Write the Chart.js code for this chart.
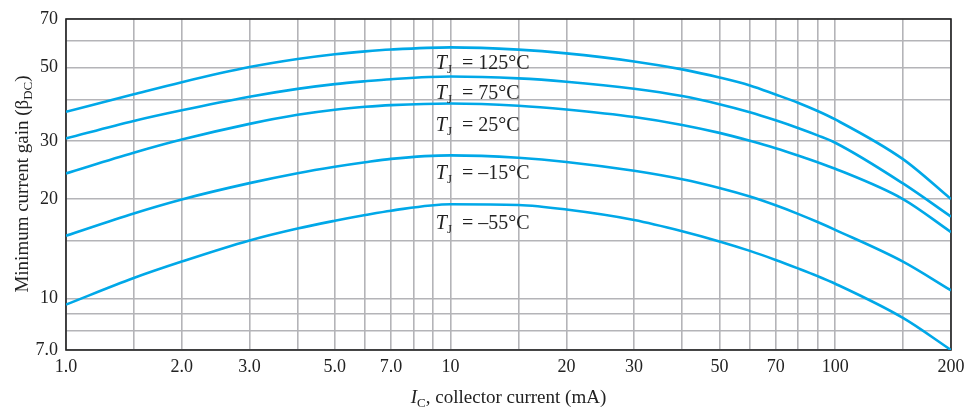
<!DOCTYPE html>
<html>
<head>
<meta charset="utf-8">
<script src="https://cdn.jsdelivr.net/npm/chart.js@4.4.1/dist/chart.umd.min.js"></script>
<style>
  html, body { margin: 0; padding: 0; background: #fff; }
  #wrap { width: 965px; height: 410px; }
</style>
</head>
<body>
<div id="wrap"><canvas id="grafico" width="965" height="410"></canvas></div>
<script>
// collector current (mA), shared by all curves
const corrente = [1, 1.5, 2, 3, 4, 5, 6, 7, 10, 15, 20, 30, 40, 50, 60, 70, 80, 90, 100, 150, 200];

// minimum beta_DC for each junction temperature
const ganho125 = [36.7, 41.45, 45.1, 50.1, 53.0, 54.8, 55.9, 56.6, 57.45, 56.55, 55.1, 52.1, 49.3, 46.6, 44.1, 41.4, 39.1, 36.9, 34.8, 26.4, 20.0];
const ganho75  = [30.5, 34.45, 37.1, 40.75, 43.05, 44.5, 45.4, 46.05, 46.9, 46.3, 45.25, 43.1, 40.95, 38.7, 36.6, 34.6, 32.8, 31.15, 29.6, 22.3, 17.7];
const ganho25  = [23.9, 27.6, 30.25, 33.75, 35.95, 37.25, 38.0, 38.45, 38.9, 38.3, 37.3, 35.4, 33.5, 31.7, 30.0, 28.5, 27.1, 25.85, 24.7, 20.0, 15.9];
const ganhoM15 = [15.5, 18.1, 19.95, 22.35, 23.95, 25.05, 25.85, 26.45, 27.1, 26.65, 25.9, 24.35, 22.95, 21.6, 20.35, 19.15, 18.05, 17.05, 16.15, 12.95, 10.6];
const ganhoM55 = [9.6, 11.55, 12.95, 15.0, 16.3, 17.2, 17.9, 18.45, 19.3, 19.2, 18.6, 17.3, 16.0, 14.9, 13.95, 13.1, 12.35, 11.7, 11.1, 8.75, 7.0];

const temperaturas = ["125°C", "75°C", "25°C", "\u201315°C", "\u201355°C"];
// where each T_J label sits (mA, gain)
const rotuloX = [9.15, 9.15, 9.15, 9.15, 9.15];
const rotuloY = [51.9, 42.1, 33.7, 24.1, 17.0];

// grid lines and labelled ticks
const gradeX = [1, 1.5, 2, 3, 4, 5, 6, 7, 8, 9, 10, 15, 20, 30, 40, 50, 60, 70, 80, 90, 100, 150, 200];
const rotulosX = { 1: "1.0", 2: "2.0", 3: "3.0", 5: "5.0", 7: "7.0", 10: "10", 20: "20", 30: "30", 50: "50", 70: "70", 100: "100", 200: "200" };
const gradeY = [7, 8, 9, 10, 15, 20, 30, 40, 50, 60, 70];
const rotulosY = { 7: "7.0", 10: "10", 20: "20", 30: "30", 50: "50", 70: "70" };

const series = [ganho125, ganho75, ganho25, ganhoM15, ganhoM55];
const azul = "#00a8e8";
const serif = "'Liberation Serif', 'DejaVu Serif', serif";

const datasets = series.map(function (s, i) {
  return {
    label: temperaturas[i],
    data: corrente.map((x, k) => ({ x: x, y: s[k] })),
    borderColor: azul,
    borderWidth: 2.6,
    pointRadius: 0,
    fill: false,
    cubicInterpolationMode: "monotone",
  };
});

// frame, curve labels and axis titles (with subscripts)
const textos = {
  id: "textos",
  beforeDatasetsDraw(chart) {
    const a = chart.chartArea;
    const c = chart.ctx;
    c.save();
    c.strokeStyle = "#222";
    c.lineWidth = 1.6;
    c.strokeRect(a.left, a.top, a.right - a.left, a.bottom - a.top);
    c.restore();
  },
  afterDatasetsDraw(chart) {
    const c = chart.ctx;
    const sx = chart.scales.x;
    const sy = chart.scales.y;
    c.save();
    c.fillStyle = "#222";
    c.textBaseline = "alphabetic";
    c.textAlign = "left";
    temperaturas.forEach(function (t, i) {
      let x = sx.getPixelForValue(rotuloX[i]);
      const y = sy.getPixelForValue(rotuloY[i]) + 7;
      c.font = "italic 20px " + serif;
      c.fillText("T", x, y);
      x += c.measureText("T").width;
      c.font = "13px " + serif;
      c.fillText("J", x, y + 4);
      x += c.measureText("J").width + 10;
      c.font = "20px " + serif;
      c.fillText("= " + t, x, y);
    });

    // x title
    c.font = "italic 19px " + serif;
    const w1 = c.measureText("I").width;
    c.font = "13px " + serif;
    const w2 = c.measureText("C").width;
    c.font = "19px " + serif;
    const resto = ", collector current (mA)";
    const w3 = c.measureText(resto).width;
    let x = (chart.chartArea.left + chart.chartArea.right) / 2 - (w1 + w2 + w3) / 2;
    const yb = 403;
    c.font = "italic 19px " + serif;
    c.fillText("I", x, yb);
    x += w1;
    c.font = "13px " + serif;
    c.fillText("C", x, yb + 4);
    x += w2;
    c.font = "19px " + serif;
    c.fillText(resto, x, yb);

    // y title
    c.translate(28, 184);
    c.rotate(-Math.PI / 2);
    const p1 = "Minimum current gain (\u03b2";
    c.font = "19px " + serif;
    const v1 = c.measureText(p1).width;
    c.font = "13px " + serif;
    const v2 = c.measureText("DC").width;
    c.font = "19px " + serif;
    const v3 = c.measureText(")").width;
    let xx = -(v1 + v2 + v3) / 2;
    c.fillText(p1, xx, 0);
    xx += v1;
    c.font = "13px " + serif;
    c.fillText("DC", xx, 4);
    xx += v2;
    c.font = "19px " + serif;
    c.fillText(")", xx, 0);
    c.restore();
  },
};

const grade = { color: "#b4b4b8", lineWidth: 1.6, drawTicks: false };

new Chart(document.getElementById("grafico"), {
  type: "line",
  data: { datasets: datasets },
  options: {
    responsive: false,
    animation: false,
    layout: { padding: { top: 19, right: 14, left: 0, bottom: 0 } },
    plugins: { legend: { display: false }, tooltip: { enabled: false } },
    scales: {
      x: {
        type: "logarithmic",
        min: 1,
        max: 200,
        border: { display: false },
        grid: grade,
        afterBuildTicks: (s) => { s.ticks = gradeX.map((v) => ({ value: v })); },
        afterFit: (s) => { s.height = 60; s.paddingLeft = 0; s.paddingRight = 0; },
        ticks: {
          autoSkip: false,
          maxRotation: 0,
          padding: 6,
          color: "#222",
          font: { family: serif, size: 18 },
          callback: (v) => rotulosX[v] || "",
        },
      },
      y: {
        type: "logarithmic",
        min: 7,
        max: 70,
        border: { display: false },
        grid: grade,
        afterBuildTicks: (s) => { s.ticks = gradeY.map((v) => ({ value: v })); },
        afterFit: (s) => { s.width = 66; s.paddingTop = 0; s.paddingBottom = 0; },
        ticks: {
          autoSkip: false,
          padding: 8,
          color: "#222",
          font: { family: serif, size: 18 },
          callback: (v) => rotulosY[v] || "",
        },
      },
    },
  },
  plugins: [textos],
});
</script>
</body>
</html>
